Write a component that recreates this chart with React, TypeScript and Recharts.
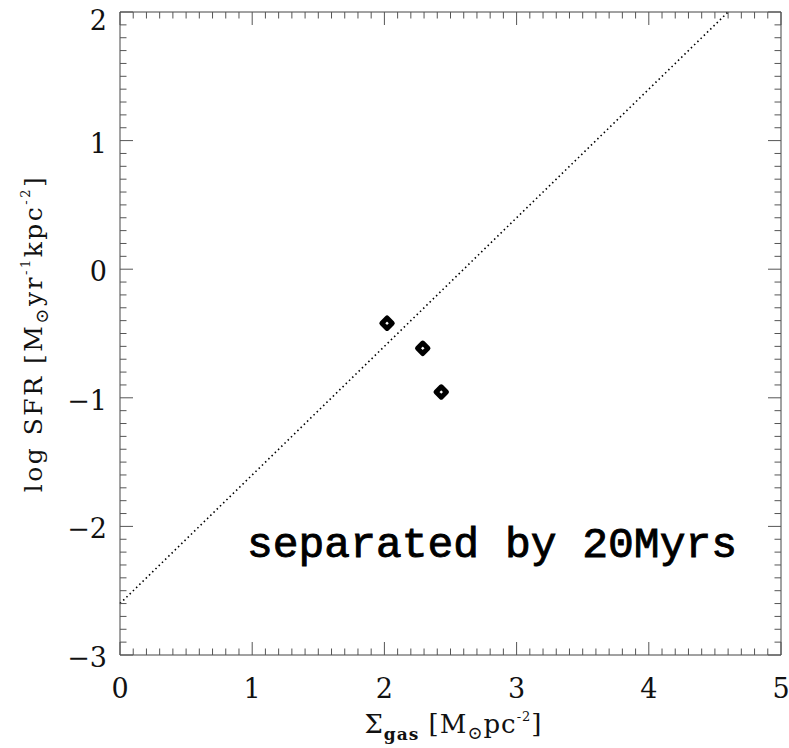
import React from 'react';
import { ScatterChart, Scatter, XAxis, YAxis, Customized } from 'recharts';

// data
const points = [
  { x: 2.02, y: -0.42 },
  { x: 2.29, y: -0.615 },
  { x: 2.43, y: -0.955 },
];
const fitLine = [
  { x: 0, y: -2.6 },
  { x: 4.6, y: 2.0 },
];
const xMajor = [0, 1, 2, 3, 4, 5];
const yMajor = [-3, -2, -1, 0, 1, 2];
const xLabels = ['0', '1', '2', '3', '4', '5'];
const yLabels = ['\u22123', '\u22122', '\u22121', '0', '1', '2'];
const annotation = 'separated by 20Myrs';

const minorTicks = (lo: number, hi: number) => {
  const out: number[] = [];
  for (let i = Math.round(lo * 10); i <= Math.round(hi * 10); i++) out.push(i / 10);
  return out;
};
const xTicks = minorTicks(0, 5);
const yTicks = minorTicks(-3, 2);

const W = 789;
const H = 748;
const TICK_COLOR = '#555';
const FONT = '"DejaVu Serif", serif';
const MAJ = 13;
const MIN = 6.5;

const majorIndex = (v: number, arr: number[]) => arr.findIndex((m) => Math.abs(m - v) < 1e-6);

const BottomTick = (props: any) => {
  const { x, y, payload } = props;
  const idx = majorIndex(payload.value, xMajor);
  const len = idx >= 0 ? MAJ : MIN;
  return (
    <g>
      <line x1={x} x2={x} y1={y} y2={y - len} stroke={TICK_COLOR} strokeWidth={1} />
      {idx >= 0 && (
        <text x={x} y={y + 43} textAnchor="middle" fontFamily={FONT} fontSize={27} fill="#111">
          {xLabels[idx]}
        </text>
      )}
    </g>
  );
};
const TopTick = (props: any) => {
  const { x, y, payload } = props;
  const len = majorIndex(payload.value, xMajor) >= 0 ? MAJ : MIN;
  return <line x1={x} x2={x} y1={y} y2={y + len} stroke={TICK_COLOR} strokeWidth={1} />;
};
const LeftTick = (props: any) => {
  const { x, y, payload } = props;
  const idx = majorIndex(payload.value, yMajor);
  const len = idx >= 0 ? MAJ : MIN;
  const isTop = idx === yMajor.length - 1;
  return (
    <g>
      <line x1={x} x2={x + len} y1={y} y2={y} stroke={TICK_COLOR} strokeWidth={1} />
      {idx >= 0 && (
        <text
          x={x - 13}
          y={y + (isTop ? 18 : 12)}
          textAnchor="end"
          fontFamily={FONT}
          fontSize={27}
          fill="#111"
        >
          {yLabels[idx]}
        </text>
      )}
    </g>
  );
};
const RightTick = (props: any) => {
  const { x, y, payload } = props;
  const len = majorIndex(payload.value, yMajor) >= 0 ? MAJ : MIN;
  return <line x1={x} x2={x - len} y1={y} y2={y} stroke={TICK_COLOR} strokeWidth={1} />;
};

const Diamond = (props: any) => {
  const { cx, cy } = props;
  const r = 5.2;
  return (
    <polygon
      points={`${cx},${cy - r} ${cx + r},${cy} ${cx},${cy + r} ${cx - r},${cy}`}
      fill="#fff"
      stroke="#000"
      strokeWidth={5}
      strokeLinejoin="round"
    />
  );
};

const NoShape = () => null;

const XLabel = (props: any) => {
  const vb = props.viewBox;
  const cx = vb.x + vb.width / 2 + 3;
  const y = vb.y + 78;
  return (
    <text x={cx} y={y} textAnchor="middle" fontFamily={FONT} fontSize={26} letterSpacing={1} fill="#111">
      <tspan>Σ</tspan>
      <tspan dy={7} fontSize={17} fontWeight="bold">gas</tspan>
      <tspan dy={-7}>{'  [M'}</tspan>
      <tspan dy={6} fontSize={18}>⊙</tspan>
      <tspan dy={-6}>pc</tspan>
      <tspan dy={-12} fontSize={13}>-2</tspan>
      <tspan dy={12}>]</tspan>
    </text>
  );
};

const YLabel = (props: any) => {
  const vb = props.viewBox;
  const cy = vb.y + vb.height / 2;
  const x = 42;
  return (
    <text
      x={x}
      y={cy}
      transform={`rotate(-90, ${x}, ${cy})`}
      textAnchor="middle"
      fontFamily={FONT}
      fontSize={25}
      letterSpacing={2.5}
      fill="#111"
    >
      <tspan>{'log  SFR  [M'}</tspan>
      <tspan dy={6} fontSize={18}>⊙</tspan>
      <tspan dy={-6}>yr</tspan>
      <tspan dy={-12} fontSize={13}>-1</tspan>
      <tspan dy={12}>kpc</tspan>
      <tspan dy={-12} fontSize={13}>-2</tspan>
      <tspan dy={12}>]</tspan>
    </text>
  );
};

const Annotation = () => (
  <text
    x={247}
    y={557}
    fontFamily='"Liberation Mono", monospace'
    fontSize={43}
    fill="#000"
    stroke="#000"
    strokeWidth={0.9}
    textLength={490}
    lengthAdjust="spacingAndGlyphs"
  >
    {annotation}
  </text>
);

export default function App() {
  return (
    <div style={{ position: 'fixed', left: 0, top: 0, width: W, height: H, background: '#fff' }}>
      <ScatterChart
        width={W}
        height={H}
        margin={{ top: 11, right: 7, bottom: 0, left: 0 }}
        style={{ overflow: 'visible' }}
      >
        <XAxis
          xAxisId="b"
          type="number"
          dataKey="x"
          domain={[0, 5]}
          ticks={xTicks}
          interval={0}
          height={93}
          tickSize={0}
          tickMargin={0}
          tick={<BottomTick />}
          tickLine={false}
          axisLine={{ stroke: '#444' }}
          label={<XLabel />}
        />
        <XAxis
          xAxisId="t"
          orientation="top"
          type="number"
          dataKey="x"
          domain={[0, 5]}
          ticks={xTicks}
          interval={0}
          height={1}
          tickSize={0}
          tickMargin={0}
          tick={<TopTick />}
          tickLine={false}
          axisLine={{ stroke: '#444' }}
        />
        <YAxis
          yAxisId="l"
          type="number"
          dataKey="y"
          domain={[-3, 2]}
          ticks={yTicks}
          interval={0}
          width={120}
          tickSize={0}
          tickMargin={0}
          tick={<LeftTick />}
          tickLine={false}
          axisLine={{ stroke: '#444' }}
          label={<YLabel />}
        />
        <YAxis
          yAxisId="r"
          orientation="right"
          type="number"
          dataKey="y"
          domain={[-3, 2]}
          ticks={yTicks}
          interval={0}
          width={1}
          tickSize={0}
          tickMargin={0}
          tick={<RightTick />}
          tickLine={false}
          axisLine={{ stroke: '#444' }}
        />
        <Scatter
          xAxisId="b"
          yAxisId="l"
          data={fitLine}
          line={{ stroke: '#000', strokeWidth: 1.6, strokeDasharray: '1.5 3' }}
          shape={<NoShape />}
          isAnimationActive={false}
        />
        <Scatter
          xAxisId="t"
          yAxisId="r"
          data={points}
          shape={<NoShape />}
          isAnimationActive={false}
        />
        <Scatter
          xAxisId="b"
          yAxisId="l"
          data={points}
          shape={<Diamond />}
          isAnimationActive={false}
        />
        <Customized component={<Annotation />} />
      </ScatterChart>
    </div>
  );
}
